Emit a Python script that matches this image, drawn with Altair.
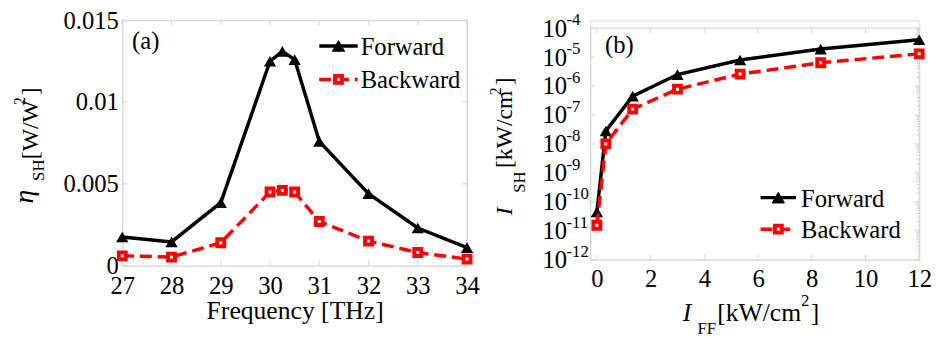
import altair as alt
import pandas as pd

FONT = "Liberation Serif, Times New Roman, Times, DejaVu Serif, serif"

# ---------------- data ----------------
freq = [27, 28, 29, 30, 30.25, 30.5, 31, 32, 33, 34]
fwd_a = [0.00175, 0.00145, 0.00385, 0.0125, 0.0131, 0.0126, 0.0076, 0.0044, 0.0023, 0.0011]
bwd_a = [0.0006, 0.00052, 0.0014, 0.0045, 0.0046, 0.0045, 0.0027, 0.0015, 0.0008, 0.0004]

iff = [0, 0.333, 1.333, 3, 5.333, 8.333, 12]
fwd_b = [4.5e-11, 2.8e-8, 4.5e-7, 2.5e-6, 8e-6, 1.9e-5, 4e-5]
bwd_b = [1.55e-11, 1e-8, 1.6e-7, 7.8e-7, 2.6e-6, 6.4e-6, 1.3e-5]

xa_ticks = [27, 28, 29, 30, 31, 32, 33, 34]
ya_ticks = [0, 0.005, 0.01, 0.015]
xb_ticks = [0, 2, 4, 6, 8, 10, 12]
yb_ticks = [1e-4, 1e-5, 1e-6, 1e-7, 1e-8, 1e-9, 1e-10, 1e-11, 1e-12]
yb_exps = ["-4", "-5", "-6", "-7", "-8", "-9", "-10", "-11", "-12"]
yb_minor_mult = [2, 3, 4, 5, 6, 7, 8, 9]

# ---------------- helpers ----------------
one = pd.DataFrame({"k": [0]})
FRAME = "#d4d4d4"


def txt(s, x, y, size, angle=0, italic=False, align="left", baseline="alphabetic"):
    return alt.Chart(one).mark_text(
        text=s, align=align, baseline=baseline, angle=angle, font=FONT,
        fontSize=size, fontStyle="italic" if italic else "normal", color="black",
    ).encode(x=alt.value(x), y=alt.value(y))


def rule(x1, x2, y1, y2):
    return alt.Chart(one).mark_rule(color=FRAME, strokeWidth=1).encode(
        x=alt.value(x1), x2=alt.value(x2), y=alt.value(y1), y2=alt.value(y2))


def legend_row(x1, x2, y, tx, label, color, dash, shape, filled, size, sw):
    line = alt.Chart(one).mark_rule(color=color, strokeWidth=3.5, strokeDash=dash).encode(
        x=alt.value(x1), x2=alt.value(x2), y=alt.value(y))
    pt = alt.Chart(one).mark_point(
        shape=shape, filled=filled, size=size, color=color,
        fill=color if filled else "white", stroke=color, strokeWidth=sw, opacity=1,
    ).encode(x=alt.value((x1 + x2) / 2), y=alt.value(y))
    t = txt(label, tx, y + 9, 25)
    return [line, pt, t]


def series_layers(df, xenc, yenc):
    fl = alt.Chart(df).mark_line(color="black", strokeWidth=3.5).encode(x=xenc("f"), y=yenc("fwd"))
    fp = alt.Chart(df).mark_point(shape="triangle-up", filled=True, size=155, color="black",
                                  opacity=1).encode(x=xenc("f"), y=yenc("fwd"))
    bl = alt.Chart(df).mark_line(color="#ff0000", strokeWidth=3.5, strokeDash=[12, 6]).encode(
        x=xenc("f"), y=yenc("bwd"))
    bp = alt.Chart(df).mark_point(shape="square", filled=False, size=49, stroke="#ff0000",
                                  fill="white", strokeWidth=4, opacity=1).encode(
        x=xenc("f"), y=yenc("bwd"))
    return [fl, fp, bl, bp]


def tick_layers(xticks, xenc, yticks, yenc, top, bottom, left, right, n=5):
    dfx = pd.DataFrame({"t": xticks})
    dfy = pd.DataFrame({"t": yticks})
    m = dict(color=FRAME, strokeWidth=1)
    return [
        alt.Chart(dfx).mark_rule(**m).encode(x=xenc("t"), y=alt.value(bottom), y2=alt.value(bottom - n)),
        alt.Chart(dfx).mark_rule(**m).encode(x=xenc("t"), y=alt.value(top), y2=alt.value(top + n)),
        alt.Chart(dfy).mark_rule(**m).encode(y=yenc("t"), x=alt.value(left), x2=alt.value(left + n)),
        alt.Chart(dfy).mark_rule(**m).encode(y=yenc("t"), x=alt.value(right), x2=alt.value(right - n)),
    ]


axis_common = dict(labelFont=FONT, labelFontSize=25, labelColor="black", domainColor=FRAME,
                   ticks=False, grid=False, titleFont=FONT, titleColor="black",
                   titleFontWeight="normal", labelFlush=False, labelOverlap=False)

# ---------------- panel (a) ----------------
WA, HA = 350, 249
df_a = pd.DataFrame({"f": freq, "fwd": fwd_a, "bwd": bwd_a})
xscale_a = alt.Scale(domain=[27, 34], nice=False, zero=False)
yscale_a = alt.Scale(domain=[0, 0.015], nice=False)
xaxis_a = alt.Axis(values=xa_ticks, title="Frequency [THz]", titleFontSize=26,
                   titleY=54, titleBaseline="alphabetic", labelPadding=8, **axis_common)
yaxis_a = alt.Axis(values=ya_ticks, format=".3~f", title=None, labelPadding=4, **axis_common)


def xa(field):
    return alt.X(f"{field}:Q", scale=xscale_a, axis=xaxis_a)


def ya(field):
    return alt.Y(f"{field}:Q", scale=yscale_a, axis=yaxis_a)


layers_a = [rule(0, WA, 0, 0), rule(WA, WA, 0, HA)]
layers_a += tick_layers(xa_ticks, xa, ya_ticks, ya, 0, HA, 0, WA)
layers_a += series_layers(df_a, xa, ya)
layers_a += [txt("(a)", 10, 29, 25)]
layers_a += legend_row(200, 239, 26, 242, "Forward", "black", [1, 0], "triangle-up", True, 155, 1)
layers_a += legend_row(200, 239, 60, 242, "Backward", "#ff0000", [12, 6], "square", False, 49, 4)
# y title: eta_SH [W/W^2]
layers_a += [
    txt("η", -91, 186, 28, angle=270, italic=True),
    txt("SH", -79, 163, 17, angle=270),
    txt("[W/W", -86, 141, 24, angle=270),
    txt("2", -99, 86, 16, angle=270),
    txt("]", -86, 76, 24, angle=270),
]
panel_a = alt.layer(*layers_a).properties(width=WA, height=HA)

# ---------------- panel (b) ----------------
OB = 8            # the plot frame of (b) starts 8 px below that of (a)
WB, HB = 334, 243
df_b = pd.DataFrame({"f": iff, "fwd": fwd_b, "bwd": bwd_b})
xscale_b = alt.Scale(domain=[-0.25, 12], nice=False, zero=False)
yscale_b = alt.Scale(type="log", domain=[1e-12, 1e-4], nice=False, range=[HB, OB])
xaxis_b = alt.Axis(values=xb_ticks, title=None, labelPadding=7, **axis_common)
yaxis_b = alt.Axis(values=yb_ticks, labelExpr="'10'", title=None, labelPadding=24, **axis_common)


def xb(field):
    return alt.X(f"{field}:Q", scale=xscale_b, axis=xaxis_b)


def yb(field):
    return alt.Y(f"{field}:Q", scale=yscale_b, axis=yaxis_b)


layers_b = [rule(0, WB, OB, OB), rule(WB, WB, OB, HB)]
layers_b += tick_layers(xb_ticks, xb, yb_ticks, yb, OB, HB, 0, WB)
# minor log ticks on the right-hand frame
minor = pd.DataFrame({"t": [m * d for d in yb_ticks[1:] for m in yb_minor_mult]})
layers_b += [alt.Chart(minor).mark_rule(color=FRAME, strokeWidth=1).encode(
    y=yb("t"), x=alt.value(WB), x2=alt.value(WB - 3))]
layers_b += series_layers(df_b, xb, yb)
df_sup = pd.DataFrame({"v": yb_ticks, "e": yb_exps})
layers_b += [alt.Chart(df_sup).mark_text(align="left", baseline="alphabetic", dy=-3, font=FONT,
                                         fontSize=17, color="black").encode(
    x=alt.value(-24), y=yb("v"), text="e:N")]
layers_b += [txt("(b)", 15, 25 + OB, 25)]
layers_b += legend_row(173, 209, 172 + OB, 214, "Forward", "black", [1, 0], "triangle-up", True, 155, 1)
layers_b += legend_row(173, 209, 204 + OB, 214, "Backward", "#ff0000", [12, 6], "square", False, 49, 4)
# y title: I_SH [kW/cm^2]
layers_b += [
    txt("I", -79, 190 + OB, 24, angle=270, italic=True),
    txt("SH", -66, 167 + OB, 17, angle=270),
    txt("[kW/cm", -79, 142 + OB, 24, angle=270),
    txt("2", -91, 68 + OB, 16, angle=270),
    txt("]", -79, 58 + OB, 24, angle=270),
]
# x title: I_FF [kW/cm^2]
layers_b += [
    txt("I", 94, 297 + OB, 26, italic=True),
    txt("FF", 109, 310 + OB, 17),
    txt("[kW/cm", 129, 297 + OB, 26),
    txt("2", 214, 282 + OB, 17),
    txt("]", 224, 297 + OB, 26),
]
panel_b = alt.layer(*layers_b).properties(width=WB, height=HB)

chart = (
    alt.hconcat(panel_a, panel_b, spacing=7)
    .properties(padding={"left": 2, "top": -3, "right": 0, "bottom": 0})
    .configure_view(strokeOpacity=0)
    .configure(background="white")
)

chart.save("out.html", embed_options={"renderer": "svg", "actions": False})
